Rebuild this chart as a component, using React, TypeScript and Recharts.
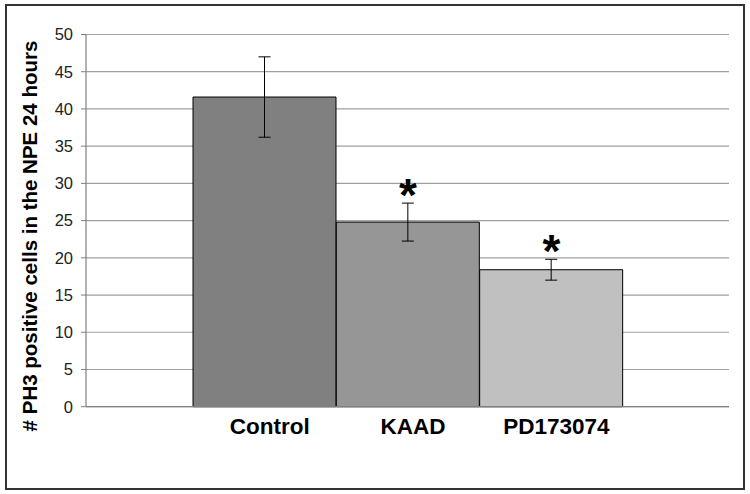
import {
  Bar,
  CartesianGrid,
  Cell,
  ComposedChart,
  ErrorBar,
  Label,
  Scatter,
  XAxis,
  YAxis,
} from "recharts";

const groups = ["Control", "KAAD", "PD173074"];
const means = [41.6, 24.8, 18.4];
const errors = [5.4, 2.55, 1.4];
const significant = [false, true, true];
const fills = ["#808080", "#969696", "#c0c0c0"];
const yTicks = [0, 5, 10, 15, 20, 25, 30, 35, 40, 45, 50];

const data = groups.map((group, i) => ({
  group,
  value: means[i],
  err: errors[i],
  star: significant[i] ? means[i] + errors[i] : null,
}));

const FONT = "'Liberation Sans', Arial, sans-serif";

const renderXTick = ({ x, y, payload }: any) => (
  <text
    x={x + 5}
    y={y + 19}
    textAnchor="middle"
    fontFamily={FONT}
    fontWeight="bold"
    fontSize={22.5}
    fill="#000"
  >
    {payload.value}
  </text>
);

const renderStar = ({ cx, cy, payload }: any) => {
  if (payload.star == null || cx == null) {
    return <g />;
  }
  return (
    <text
      x={cx}
      y={cy + 8}
      textAnchor="middle"
      fontFamily={FONT}
      fontWeight="bold"
      fontSize={46}
      fill="#000"
    >
      *
    </text>
  );
};

const renderYLabel = () => (
  <text
    x={37}
    y={236}
    transform="rotate(-90 37 236)"
    textAnchor="middle"
    fontFamily={FONT}
    fontWeight="bold"
    fontSize={20.5}
    fill="#000"
  >
    # PH3 positive cells in the NPE 24 hours
  </text>
);

export default function App() {
  return (
    <div
      style={{
        position: "absolute",
        left: 0,
        top: 0,
        width: 750,
        height: 494,
        background: "#fff",
      }}
    >
      <div
        style={{
          position: "absolute",
          left: 5,
          top: 4,
          width: 736,
          height: 482,
          border: "2px solid #333",
        }}
      />
      <div style={{ position: "absolute", left: 0, top: 0 }}>
        <ComposedChart
          width={750}
          height={494}
          data={data}
          margin={{ top: 34.5, right: 21, bottom: 37.3, left: 0 }}
          barCategoryGap={0}
          barGap={0}
        >
          <CartesianGrid vertical={false} stroke="#a0a0a0" strokeWidth={1.2} />
          <XAxis
            dataKey="group"
            height={50}
            padding={{ left: 107, right: 106 }}
            axisLine={{ stroke: "#808080", strokeWidth: 1.2 }}
            tickLine={false}
            tick={renderXTick}
            interval={0}
          />
          <YAxis
            width={86}
            domain={[0, 50]}
            ticks={yTicks}
            interval={0}
            axisLine={{ stroke: "#808080", strokeWidth: 1.2 }}
            tickLine={{ stroke: "#808080" }}
            tickSize={5}
            tickMargin={8}
            tick={{ fontFamily: FONT, fontSize: 16.5, fill: "#222" }}
          >
            <Label content={renderYLabel} />
          </YAxis>
          <YAxis
            yAxisId="r"
            orientation="right"
            width={0}
            tick={false}
            tickLine={false}
            axisLine={{ stroke: "#a0a0a0", strokeWidth: 1.2 }}
          />
          <Bar
            dataKey="value"
            stroke="#000"
            strokeWidth={1}
            isAnimationActive={false}
          >
            {data.map((d, i) => (
              <Cell key={d.group} fill={fills[i]} />
            ))}
            <ErrorBar
              dataKey="err"
              width={6}
              stroke="#000"
              strokeWidth={1}
              isAnimationActive={false}
            />
          </Bar>
          <Scatter
            dataKey="star"
            shape={renderStar}
            isAnimationActive={false}
          />
        </ComposedChart>
      </div>
    </div>
  );
}
